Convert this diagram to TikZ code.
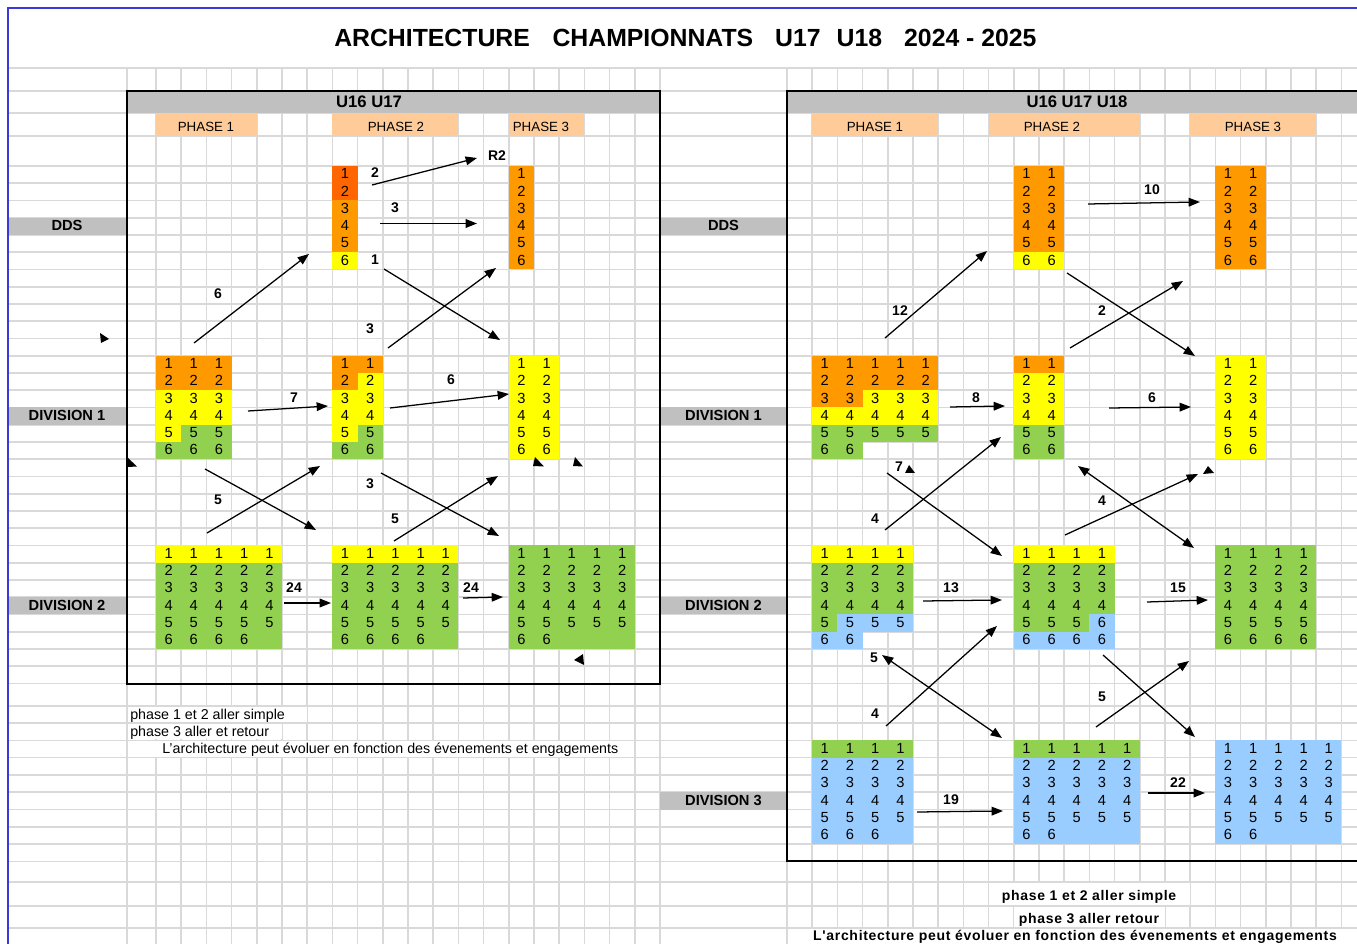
\documentclass[tikz,border=0pt]{standalone}
\usepackage{fontspec}
\setmainfont{Liberation Sans}
\newfontfamily\espace[LetterSpace=5]{Liberation Sans}
\usetikzlibrary{arrows.meta}
\definecolor{grille}{HTML}{D9D9D9}
\definecolor{cadre}{HTML}{3A3AD8}
\definecolor{gris}{HTML}{C0C0C0}
\definecolor{peche}{HTML}{FFCC99}
\definecolor{rouille}{HTML}{FF6600}
\definecolor{oranj}{HTML}{FF9900}
\definecolor{jaune}{HTML}{FFFF00}
\definecolor{vert}{HTML}{92D050}
\definecolor{bleuc}{HTML}{99CCFF}
\tikzset{
  declare function={ry(\r)=(\r<31)*(166+17.25*\r)+(\r>30.5)*(705.7+17.3*(\r-31));},
  grille/.style={draw=grille, line width=1.2pt},
  bord/.style={draw=black, line width=1.5pt},
  num/.style={font=\fontsize{11}{13}\selectfont, anchor=base, inner sep=0pt},
  etiq/.style={font=\fontsize{10.5}{12}\selectfont\bfseries, inner sep=0pt},
  lien/.style={-{Triangle[length=8.5pt,width=6.5pt]}, line width=0.95pt},
  lien2/.style={{Triangle[length=8.5pt,width=6.5pt]}-{Triangle[length=8.5pt,width=6.5pt]}, line width=0.95pt},
  rang/.style={font=\fontsize{11}{13}\selectfont\bfseries, inner sep=0pt},
  phase/.style={font=\fontsize{10}{12}\selectfont, inner sep=0pt},
  entete/.style={font=\fontsize{12.5}{15}\selectfont\bfseries, inner sep=0pt},
  titre/.style={font=\fontsize{18.6}{22}\selectfont\bfseries, inner sep=0pt, anchor=base west},
  note/.style={font=\fontsize{10.7}{12}\selectfont, anchor=base west, inner sep=0pt},
  noteb/.style={font=\espace\fontsize{10.5}{12}\selectfont\bfseries, anchor=base, inner sep=0pt},
}
% fill of cells: x, first row, columns, rows, colour
\newcommand{\pave}[5]{\fill[#5] (#1,{ry(#2)}) rectangle ({#1+25.2*#3},{ry(#2+#4)});}
% numbers 1..6: name, x, first row, columns, columns of the last row
\newcommand{\chiffres}[5]{%
  \foreach \c in {1,...,#4}{\foreach \j in {1,...,5}{
    \node[num] (#1-\c-\j) at ({#2+25.2*\c-12.6},{ry(#3+\j-1)+12.9}) {\j};}}
  \foreach \c in {1,...,#5}{
    \node[num] (#1-\c-6) at ({#2+25.2*\c-12.6},{ry(#3+5)+12.9}) {6};}}
\newcommand{\colonne}[4]{%
  \foreach \v [count=\j] in {#4}{
    \node[num] (#1-\j) at ({#2+12.6},{ry(#3+\j-1)+12.9}) {\v};}}
\newcommand{\fleche}[4]{%
  \coordinate (#1-d) at (#2); \coordinate (#1-f) at (#3);
  \draw[#4] (#1-d) -- (#1-f);}

\begin{document}
\begin{tikzpicture}[x=0.75pt,y=-0.75pt]
  \useasboundingbox (0,0) rectangle (1357,944);
  \fill[white] (0,0) rectangle (1357,944);

  % spreadsheet grid
  \foreach \y in {68,91,113,136,881.7,906,928}
    \draw[grille] (8,\y) -- (1357,\y);
  \foreach \r in {0,...,40}
    \draw[grille] (8,{ry(\r)}) -- (1357,{ry(\r)});
  \draw[grille] (127,68) -- (127,944);
  \foreach \k in {0,...,20}
    \draw[grille] ({156+25.2*\k},68) -- ({156+25.2*\k},944);
  \foreach \k in {0,...,23}
    \draw[grille] ({787+25.2*\k},68) -- ({787+25.2*\k},944);
  \draw[cadre, line width=1.2pt] (8,944) -- (8,8) -- (1357,8);

  % title
  \node[titre] (titre) at (334,46.7)
    {ARCHITECTURE\hspace{17pt}CHAMPIONNATS\hspace{16.5pt}U17\hspace{12pt}U18\hspace{16.5pt}2024 - 2025};

  % headers
  \fill[gris] (127,91) rectangle (660,113);
  \fill[gris] (787,91) rectangle (1365,113);
  \node[entete] (hg) at (369,102) {U16 U17};
  \node[entete] (hd) at (1077,102) {U16 U17 U18};
  \fill[peche] (156,113) rectangle (257.2,136);
  \fill[peche] (332.4,113) rectangle (458.4,136);
  \fill[peche] (508.8,113) rectangle (584.4,136);
  \fill[peche] (812.2,113) rectangle (938.2,136);
  \fill[peche] (988.6,113) rectangle (1139.8,136);
  \fill[peche] (1190.2,113) rectangle (1316.2,136);
  \node[phase] (gp1) at (206,127) {PHASE 1};
  \node[phase] (gp2) at (396,127) {PHASE 2};
  \node[phase] (gp3) at (541,127) {PHASE 3};
  \node[phase] (dp1) at (875,127) {PHASE 1};
  \node[phase] (dp2) at (1052,127) {PHASE 2};
  \node[phase] (dp3) at (1253,127) {PHASE 3};

  % row labels
  \foreach \r/\t/\n in {3/DDS/dds, 14/DIVISION 1/div1, 25/DIVISION 2/div2}{
    \fill[gris] (9,{ry(\r)}) rectangle (127,{ry(\r+1)});
    \node[rang] (g\n) at (67,{ry(\r)+8}) {\t};}
  \foreach \r/\t/\n in {3/DDS/dds, 14/DIVISION 1/div1, 25/DIVISION 2/div2, 36/DIVISION 3/div3}{
    \fill[gris] (660,{ry(\r)}) rectangle (787,{ry(\r+1)});
    \node[rang] (d\n) at (723.5,{ry(\r)+8}) {\t};}

  % U16 U17 blocks
  \pave{332.4}{0}{1}{2}{rouille}
  \pave{332.4}{2}{1}{3}{oranj}
  \pave{332.4}{5}{1}{1}{jaune}
  \chiffres{gdds2}{332.4}{0}{1}{1}
  \pave{508.8}{0}{1}{6}{oranj}
  \chiffres{gdds3}{508.8}{0}{1}{1}
  \pave{156}{11}{3}{2}{oranj}
  \pave{156}{13}{3}{2}{jaune}
  \pave{156}{15}{1}{1}{jaune}
  \pave{181.2}{15}{2}{1}{vert}
  \pave{156}{16}{3}{1}{vert}
  \chiffres{gd1p1}{156}{11}{3}{3}
  \pave{332.4}{11}{2}{1}{oranj}
  \pave{332.4}{12}{1}{1}{oranj}
  \pave{357.6}{12}{1}{1}{jaune}
  \pave{332.4}{13}{2}{2}{jaune}
  \pave{332.4}{15}{1}{1}{jaune}
  \pave{357.6}{15}{1}{2}{vert}
  \pave{332.4}{16}{1}{1}{vert}
  \chiffres{gd1p2}{332.4}{11}{2}{2}
  \pave{508.8}{11}{2}{6}{jaune}
  \chiffres{gd1p3}{508.8}{11}{2}{2}
  \pave{156}{22}{5}{1}{jaune}
  \pave{156}{23}{5}{5}{vert}
  \chiffres{gd2p1}{156}{22}{5}{4}
  \pave{332.4}{22}{5}{1}{jaune}
  \pave{332.4}{23}{5}{5}{vert}
  \chiffres{gd2p2}{332.4}{22}{5}{4}
  \pave{508.8}{22}{5}{6}{vert}
  \chiffres{gd2p3}{508.8}{22}{5}{2}

  % U16 U17 U18 blocks
  \pave{1013.8}{0}{2}{5}{oranj}
  \pave{1013.8}{5}{2}{1}{jaune}
  \chiffres{ddds2}{1013.8}{0}{2}{2}
  \pave{1215.4}{0}{2}{6}{oranj}
  \chiffres{ddds3}{1215.4}{0}{2}{2}
  \pave{812.2}{11}{5}{2}{oranj}
  \pave{812.2}{13}{2}{1}{oranj}
  \pave{862.6}{13}{3}{1}{jaune}
  \pave{812.2}{14}{5}{1}{jaune}
  \pave{812.2}{15}{5}{1}{vert}
  \pave{812.2}{16}{2}{1}{vert}
  \chiffres{dd1p1}{812.2}{11}{5}{2}
  \pave{1013.8}{11}{2}{1}{oranj}
  \pave{1013.8}{12}{2}{3}{jaune}
  \pave{1013.8}{15}{2}{2}{vert}
  \chiffres{dd1p2}{1013.8}{11}{2}{2}
  \pave{1215.4}{11}{2}{6}{jaune}
  \chiffres{dd1p3}{1215.4}{11}{2}{2}
  \pave{812.2}{22}{4}{1}{jaune}
  \pave{812.2}{23}{4}{3}{vert}
  \pave{812.2}{26}{1}{1}{vert}
  \pave{837.4}{26}{3}{1}{bleuc}
  \pave{812.2}{27}{2}{1}{bleuc}
  \chiffres{dd2p1}{812.2}{22}{4}{2}
  \pave{1013.8}{22}{4}{1}{jaune}
  \pave{1013.8}{23}{4}{3}{vert}
  \pave{1013.8}{26}{3}{1}{vert}
  \pave{1089.4}{26}{1}{1}{bleuc}
  \pave{1013.8}{27}{4}{1}{bleuc}
  \chiffres{dd2p2}{1013.8}{22}{3}{3}
  \colonne{dd2p2c4}{1089.4}{22}{1,2,3,4,6,6}
  \pave{1215.4}{22}{4}{6}{vert}
  \chiffres{dd2p3}{1215.4}{22}{4}{4}
  \pave{812.2}{33}{4}{1}{vert}
  \pave{812.2}{34}{4}{5}{bleuc}
  \chiffres{dd3p1}{812.2}{33}{4}{3}
  \pave{1013.8}{33}{5}{1}{vert}
  \pave{1013.8}{34}{5}{5}{bleuc}
  \chiffres{dd3p2}{1013.8}{33}{5}{2}
  \pave{1215.4}{33}{5}{6}{bleuc}
  \chiffres{dd3p3}{1215.4}{33}{5}{2}

  % frames
  \draw[bord] (127,91) rectangle (660,683.5);
  \draw[bord] (1365,91) -- (787,91) -- (787,861.4) -- (1365,861.4);

  % U16 U17 moves
  \fleche{ga1}{372,185}{477,158}{lien}
  \fleche{ga2}{380,223.5}{477,223.5}{lien}
  \fleche{ga3}{384,269}{500,340}{lien}
  \fleche{ga4}{194,343}{309,254}{lien}
  \fleche{ga5}{388,348}{496,268}{lien}
  \fleche{ga6}{248,411}{328,406}{lien}
  \fleche{ga7}{390,408}{509,394}{lien}
  \fleche{ga8}{205,469}{316,530}{lien}
  \fleche{ga9}{207,533}{320,466}{lien}
  \fleche{ga10}{381,473}{499,536}{lien}
  \fleche{ga11}{394,541}{498,476}{lien}
  \fleche{ga12}{284,603}{331,603}{lien}
  \fleche{ga13}{463,598}{503,597}{lien}
  \node[etiq] (lga1) at (375,173) {2};
  \node[etiq] (r2) at (497,156) {R2};
  \node[etiq] (lga2) at (395,208) {3};
  \node[etiq] (lga3) at (375,260) {1};
  \node[etiq] (lga4) at (218,294) {6};
  \node[etiq] (lga5) at (370,329) {3};
  \node[etiq] (lga6) at (294,398) {7};
  \node[etiq] (lga7) at (451,380) {6};
  \node[etiq] (lga9) at (218,500) {5};
  \node[etiq] (lga10) at (370,484) {3};
  \node[etiq] (lga11) at (395,519) {5};
  \node[etiq] (lga12) at (294,588) {24};
  \node[etiq] (lga13) at (471,588) {24};
  % loose arrow heads
  \fill (100,333) -- (109,339) -- (101,343) -- cycle;
  \fill (128,458) -- (137,466.5) -- (128,467) -- cycle;
  \fill (535,457) -- (544,466.5) -- (533,466) -- cycle;
  \fill (575,457) -- (583,466.5) -- (573,466) -- cycle;
  \fill (574,660) -- (583,654) -- (584,665) -- cycle;

  % U16 U17 U18 moves
  \fleche{da1}{1088,204}{1200,202}{lien}
  \fleche{da2}{885,338}{987,251}{lien}
  \fleche{da3}{1067,273}{1195,356}{lien}
  \fleche{da4}{1070,348}{1183,281}{lien}
  \fleche{da5}{950,407}{1005,406}{lien}
  \fleche{da6}{1109,408}{1191,407}{lien}
  \fleche{da7}{885,530}{1001,437}{lien}
  \fleche{da8}{887,473}{1002,556}{lien}
  \fleche{da9}{1065,535}{1198,474}{lien}
  \fleche{da10}{1078,466}{1194,548}{lien2}
  \fleche{da11}{923,601}{1002,600}{lien}
  \fleche{da12}{1147,602}{1208,600}{lien}
  \fleche{da13}{882,655}{1002,738}{lien2}
  \fleche{da14}{886,726}{997,626}{lien}
  \fleche{da15}{1103,655}{1195,737}{lien}
  \fleche{da16}{1096,727}{1189,661}{lien}
  \fleche{da17}{917,812}{1003,811}{lien}
  \fleche{da18}{1148,793}{1205,793}{lien}
  \node[etiq] (lda1) at (1152,190) {10};
  \node[etiq] (lda2) at (900,311) {12};
  \node[etiq] (lda3) at (1102,311) {2};
  \node[etiq] (lda5) at (976,398) {8};
  \node[etiq] (lda6) at (1152,398) {6};
  \node[etiq] (lda8) at (899,467) {7};
  \node[etiq] (lda7) at (875,519) {4};
  \node[etiq] (lda9) at (1102,501) {4};
  \node[etiq] (lda11) at (951,588) {13};
  \node[etiq] (lda12) at (1178,588) {15};
  \node[etiq] (lda13) at (874,658) {5};
  \node[etiq] (lda14) at (875,714) {4};
  \node[etiq] (lda16) at (1102,697) {5};
  \node[etiq] (lda17) at (951,800) {19};
  \node[etiq] (lda18) at (1178,783) {22};
  \fill (909,465) -- (915,473) -- (905,473) -- cycle;
  \fill (1208,466) -- (1214,473) -- (1203,474) -- cycle;

  % notes
  \fill[white] (128.5,{ry(31)+0.9}) rectangle (306.5,{ry(32)-0.9});
  \fill[white] (128.5,{ry(32)+0.9}) rectangle (281.5,{ry(33)-0.9});
  \fill[white] (128.5,{ry(33)+0.9}) rectangle (634.3,{ry(34)-0.9});
  \node[note] (ng1) at (130,719) {phase 1 et 2 aller simple};
  \node[note] (ng2) at (130,736) {phase 3 aller et retour};
  \node[note] (ng3) at (162,753) {L'architecture peut évoluer en fonction des évenements et engagements};
  \fill[white] (989.1,882.6) rectangle (1189.7,905.1);
  \fill[white] (1014.3,906.9) rectangle (1164.5,927.1);
  \fill[white] (787.5,928.9) rectangle (1357,944);
  \node[noteb] (nd1) at (1089,900.7) {phase 1 et 2 aller simple};
  \node[noteb] (nd2) at (1089,923) {phase 3 aller retour};
  \node[noteb] (nd3) at (1075,940) {L'architecture peut évoluer en fonction des évenements et engagements};
\end{tikzpicture}
\end{document}
